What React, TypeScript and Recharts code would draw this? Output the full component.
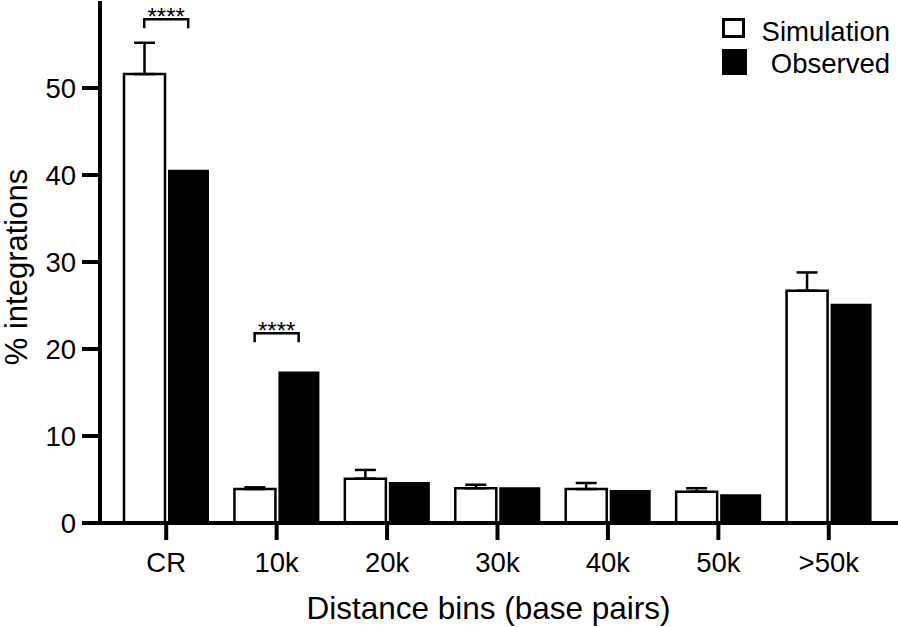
import { Bar, ComposedChart, ErrorBar, Label, Line, XAxis, YAxis } from "recharts";

const FONT = "'Liberation Sans', Arial, Helvetica, sans-serif";

const bins = ["CR", "10k", "20k", "30k", "40k", "50k", ">50k"];
const simulation = [51.6, 3.9, 5.1, 4.0, 3.9, 3.6, 26.7];
const simulationError = [3.6, 0.2, 1.0, 0.4, 0.7, 0.4, 2.1];
const observed = [40.6, 17.4, 4.7, 4.1, 3.8, 3.3, 25.2];
// significance brackets between Simulation and Observed
const significance = ["****", "****", "", "", "", "", ""];
const bracketAt = [57.9, 21.8, null, null, null, null, null];
const yTicks = [0, 10, 20, 30, 40, 50];

const data = bins.map((bin, i) => ({
  bin,
  simulation: simulation[i],
  simErr: [0, simulationError[i]],
  observed: observed[i],
  sig: significance[i],
  bracket: bracketAt[i],
}));

const BAR = 41;
const GAP = 3;

function Bracket(props: any) {
  const { cx, cy, payload, index } = props;
  if (!payload || !payload.sig || cy == null || isNaN(cy)) return <g key={`br-${index}`} />;
  const half = (BAR + GAP) / 2;
  return (
    <g key={`br-${index}`}>
      <path
        d={`M${cx - half},${cy + 9}V${cy}H${cx + half}V${cy + 9}`}
        fill="none"
        stroke="#000"
        strokeWidth={2.5}
      />
      <text x={cx} y={cy + 6} textAnchor="middle" fontSize={24} fontFamily={FONT} fill="#000">
        {payload.sig}
      </text>
    </g>
  );
}

const tickStyle = { fill: "#000", fontSize: 27.5, fontFamily: FONT };
const axisStroke = { stroke: "#000", strokeWidth: 4 };

export default function App() {
  return (
    <div style={{ position: "absolute", left: 0, top: 0, width: 898, height: 627, background: "#fff" }}>
      <ComposedChart
        width={898}
        height={627}
        data={data}
        margin={{ top: 1, right: 0, left: 0, bottom: 0 }}
        barGap={GAP}
      >
        <XAxis
          dataKey="bin"
          height={104}
          padding={{ left: 11, right: 14 }}
          tick={tickStyle}
          tickSize={17}
          tickMargin={12}
          axisLine={axisStroke}
          tickLine={axisStroke}
        >
          <Label
            content={() => (
              <text x={488.5} y={619} textAnchor="middle" fontSize={31.5} fontFamily={FONT} fill="#000">
                Distance bins (base pairs)
              </text>
            )}
          />
        </XAxis>
        <YAxis
          width={100}
          domain={[0, 60]}
          ticks={yTicks}
          tick={tickStyle}
          tickSize={18}
          tickMargin={6}
          axisLine={axisStroke}
          tickLine={axisStroke}
        >
          <Label
            content={() => (
              <text
                transform="translate(27,267) rotate(-90)"
                textAnchor="middle"
                fontSize={31}
                fontFamily={FONT}
                fill="#000"
              >
                % integrations
              </text>
            )}
          />
        </YAxis>
        <Bar
          dataKey="simulation"
          name="Simulation"
          fill="#fff"
          stroke="#000"
          strokeWidth={2.5}
          barSize={BAR}
          isAnimationActive={false}
        >
          <ErrorBar dataKey="simErr" direction="y" width={10.5} stroke="#000" strokeWidth={2.5} />
        </Bar>
        <Bar dataKey="observed" name="Observed" fill="#000" barSize={BAR} isAnimationActive={false} />
        <Line
          dataKey="bracket"
          stroke="none"
          dot={Bracket}
          activeDot={false}
          legendType="none"
          isAnimationActive={false}
        />
      </ComposedChart>
      <svg
        width={898}
        height={627}
        style={{ position: "absolute", left: 0, top: 0, pointerEvents: "none" }}
      >
        <rect x={723.5} y={19.5} width={20} height={17} fill="#fff" stroke="#000" strokeWidth={3} />
        <rect x={722} y={49} width={25} height={26} fill="#000" />
        <text x={890} y={41} textAnchor="end" fontSize={27.5} fontFamily={FONT} fill="#000">
          Simulation
        </text>
        <text x={890} y={73} textAnchor="end" fontSize={27.5} fontFamily={FONT} fill="#000">
          Observed
        </text>
      </svg>
    </div>
  );
}
